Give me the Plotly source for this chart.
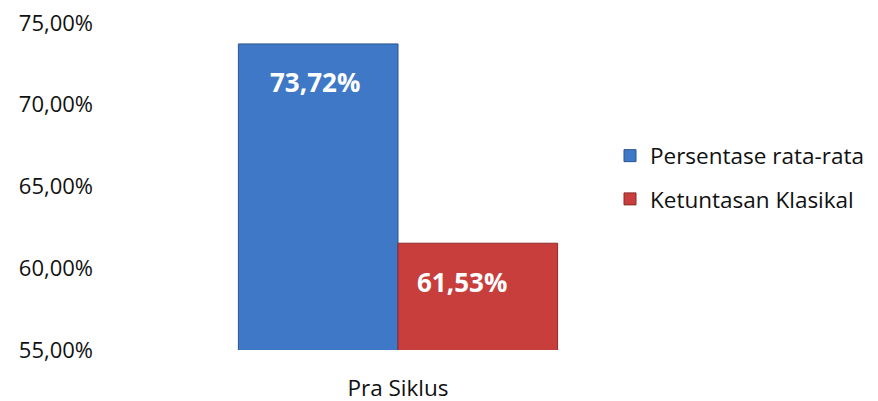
import plotly.graph_objects as go

categories = ["Pra Siklus"]
series_names = ["Persentase rata-rata", "Ketuntasan Klasikal"]
persentase = [73.72]
ketuntasan = [61.53]
tick_vals = [55, 60, 65, 70, 75]
tick_text = ["55,00%", "60,00%", "65,00%", "70,00%", "75,00%"]

colors = ["#3E78C6", "#C83E3C"]
lines = ["#2B5591", "#8E2B2A"]

fig = go.Figure()
for i, (name, vals) in enumerate(zip(series_names, [persentase, ketuntasan])):
    fig.add_trace(go.Bar(
        x=categories, y=vals, name=name, legendgroup=name,
        marker=dict(color=colors[i], line=dict(color=lines[i], width=1)),
    ))

label_shift = [(-83, -38), (64, -39)]
for vals, (xs, ys) in zip([persentase, ketuntasan], label_shift):
    for c, v in zip(categories, vals):
        fig.add_annotation(
            x=c, y=v, xref="x", yref="y", xshift=xs, yshift=ys,
            text=f"{v:.2f}%".replace(".", ","), showarrow=False,
            font=dict(family="Open Sans", size=26, color="white", weight="bold"),
        )

# the page adds an 8px body margin, so positions are offset by 8px
fig.update_layout(
    width=878, height=401,
    margin=dict(l=86, r=184, t=15, b=59),
    paper_bgcolor="white", plot_bgcolor="white",
    barmode="group", bargap=0.475, bargroupgap=0,
    font=dict(family="Open Sans", size=22, color="#111111"),
    showlegend=True,
    legend=dict(x=0.8487, y=0.5275, xanchor="left", yanchor="middle",
                font=dict(size=22.5), tracegroupgap=11,
                itemwidth=30, bgcolor="rgba(0,0,0,0)"),
    xaxis=dict(showline=False, showgrid=False, zeroline=False, ticks="",
               tickfont=dict(size=22.5), ticklabelstandoff=22,
               automargin=False, ticklabeloverflow="allow"),
    yaxis=dict(range=[55, 75], tickvals=tick_vals, ticktext=tick_text,
               showline=False, showgrid=False, zeroline=False, ticks="",
               tickfont=dict(size=22), automargin=False,
               ticklabeloverflow="allow"),
)
fig.write_html("out.html")
